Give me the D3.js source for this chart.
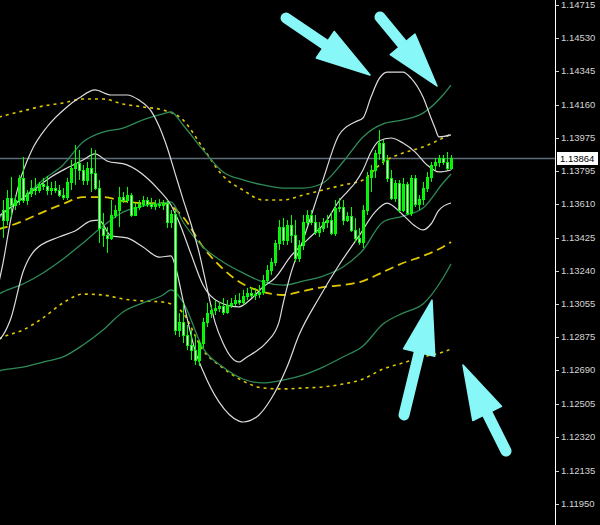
<!DOCTYPE html>
<html><head><meta charset="utf-8">
<script src="https://cdn.jsdelivr.net/npm/d3@7"></script>
<style>html,body{margin:0;padding:0;background:#000;overflow:hidden}</style>
</head><body><svg id="c" width="600" height="525"></svg>
<script>
// ---------- DATA ----------
const opens=[1.13577,1.13522,1.13644,1.13605,1.13633,1.13755,1.13633,1.13672,1.13699,1.13688,1.13722,1.13710,1.13688,1.13699,1.13688,1.13660,1.13649,1.13733,1.13810,1.13838,1.13799,1.13744,1.13810,1.13782,1.13699,1.13478,1.13439,1.13423,1.13550,1.13577,1.13649,1.13633,1.13660,1.13550,1.13594,1.13611,1.13633,1.13611,1.13600,1.13611,1.13605,1.13616,1.13511,1.13555,1.12913,1.12957,1.12885,1.12830,1.12802,1.12747,1.12841,1.12957,1.13007,1.13024,1.13035,1.13046,1.13013,1.13052,1.13063,1.13079,1.13068,1.13101,1.13118,1.13107,1.13112,1.13124,1.13190,1.13245,1.13290,1.13395,1.13483,1.13411,1.13494,1.13439,1.13312,1.13384,1.13511,1.13550,1.13511,1.13456,1.13478,1.13511,1.13522,1.13450,1.13588,1.13594,1.13522,1.13544,1.13467,1.13423,1.13400,1.13577,1.13760,1.13799,1.13893,1.13948,1.13854,1.13755,1.13644,1.13727,1.13577,1.13722,1.13561,1.13755,1.13611,1.13638,1.13699,1.13760,1.13827,1.13843,1.13865,1.13843,1.13810];
const highs=[1.13633,1.13688,1.13760,1.13660,1.13771,1.13871,1.13688,1.13744,1.13755,1.13733,1.13755,1.13766,1.13733,1.13738,1.13716,1.13699,1.13755,1.13854,1.13937,1.13910,1.13827,1.13843,1.13921,1.13910,1.13744,1.13561,1.13483,1.13633,1.13605,1.13705,1.13677,1.13705,1.13672,1.13616,1.13633,1.13655,1.13649,1.13644,1.13633,1.13638,1.13633,1.13633,1.13577,1.13577,1.13007,1.13063,1.12941,1.12913,1.12885,1.12858,1.12980,1.13063,1.13052,1.13079,1.13068,1.13090,1.13079,1.13090,1.13107,1.13118,1.13135,1.13146,1.13151,1.13146,1.13162,1.13218,1.13273,1.13312,1.13411,1.13522,1.13533,1.13522,1.13550,1.13522,1.13411,1.13550,1.13577,1.13577,1.13550,1.13511,1.13533,1.13550,1.13566,1.13633,1.13644,1.13633,1.13566,1.13594,1.13533,1.13478,1.13605,1.13788,1.13827,1.13910,1.14020,1.13965,1.13882,1.13799,1.13744,1.13744,1.13755,1.13733,1.13771,1.13771,1.13660,1.13733,1.13788,1.13843,1.13865,1.13882,1.13882,1.13899,1.13882];
const lows=[1.13423,1.13494,1.13539,1.13577,1.13605,1.13616,1.13605,1.13649,1.13660,1.13672,1.13688,1.13660,1.13660,1.13672,1.13649,1.13633,1.13633,1.13688,1.13716,1.13744,1.13716,1.13716,1.13677,1.13688,1.13395,1.13373,1.13340,1.13411,1.13533,1.13483,1.13616,1.13616,1.13539,1.13544,1.13577,1.13594,1.13594,1.13583,1.13577,1.13588,1.13577,1.13478,1.13478,1.12885,1.12874,1.12841,1.12802,1.12747,1.12719,1.12714,1.12813,1.12930,1.12980,1.12996,1.13013,1.12996,1.13002,1.13035,1.13046,1.13052,1.13052,1.13079,1.13090,1.13079,1.13090,1.13107,1.13173,1.13218,1.13268,1.13356,1.13384,1.13384,1.13395,1.13290,1.13290,1.13356,1.13489,1.13494,1.13439,1.13428,1.13456,1.13478,1.13439,1.13434,1.13566,1.13494,1.13511,1.13456,1.13400,1.13384,1.13367,1.13550,1.13677,1.13755,1.13854,1.13827,1.13733,1.13633,1.13622,1.13561,1.13566,1.13550,1.13544,1.13594,1.13577,1.13605,1.13677,1.13733,1.13799,1.13815,1.13827,1.13799,1.13799];
const closes=[1.13522,1.13644,1.13605,1.13633,1.13755,1.13633,1.13672,1.13699,1.13688,1.13722,1.13710,1.13688,1.13699,1.13688,1.13660,1.13649,1.13733,1.13810,1.13838,1.13799,1.13744,1.13810,1.13782,1.13699,1.13478,1.13439,1.13423,1.13550,1.13577,1.13649,1.13633,1.13660,1.13550,1.13594,1.13611,1.13633,1.13611,1.13600,1.13611,1.13605,1.13616,1.13511,1.13555,1.12913,1.12957,1.12885,1.12830,1.12802,1.12747,1.12841,1.12957,1.13007,1.13024,1.13035,1.13046,1.13013,1.13052,1.13063,1.13079,1.13068,1.13101,1.13118,1.13107,1.13112,1.13124,1.13190,1.13245,1.13290,1.13395,1.13483,1.13411,1.13494,1.13439,1.13312,1.13384,1.13511,1.13550,1.13511,1.13456,1.13478,1.13511,1.13522,1.13450,1.13588,1.13594,1.13522,1.13544,1.13467,1.13423,1.13400,1.13577,1.13760,1.13799,1.13893,1.13948,1.13854,1.13755,1.13644,1.13727,1.13577,1.13722,1.13561,1.13755,1.13611,1.13638,1.13699,1.13760,1.13827,1.13843,1.13865,1.13843,1.13810,1.13864];

const tickLabels=["1.14715","1.14530","1.14345","1.14160","1.13975","1.13795","1.13610","1.13425","1.13240","1.13055","1.12875","1.12690","1.12505","1.12320","1.12135","1.11950"];
const lastPrice=1.13864;

// band lines: [bar index, price]
const whiteUpper=[[-1,1.13179],[0,1.13284],[2,1.13533],[4,1.13722],[7,1.13899],[11,1.14037],[16,1.14148],[19,1.14197],[23,1.14242],[27,1.14214],[31,1.14214],[34,1.14186],[37,1.14126],[39,1.14042],[41,1.13926],[43,1.13782],[45,1.13638],[47,1.13500],[49,1.13345],[51,1.13146],[53,1.12957],[55,1.12841],[57,1.12764],[59,1.12736],[61,1.12764],[63,1.12791],[66,1.12847],[69,1.12957],[70,1.13057],[72,1.13229],[75,1.13411],[80,1.13744],[84,1.13993],[88,1.14065],[90,1.14087],[92,1.14203],[94,1.14303],[96,1.14341],[100,1.14341],[102,1.14308],[105,1.14203],[107,1.14087],[108,1.14031],[109,1.13982],[112,1.13993]];
const whiteMiddle=[[-1,1.13544],[0,1.13561],[4,1.13627],[8,1.13694],[12,1.13760],[16,1.13810],[20,1.13854],[23,1.13888],[26,1.13849],[31,1.13827],[36,1.13755],[39,1.13688],[42,1.13605],[44,1.13511],[47,1.13334],[50,1.13162],[54,1.13068],[59,1.13041],[62,1.13085],[65,1.13151],[68,1.13201],[72,1.13323],[76,1.13411],[81,1.13522],[84,1.13627],[86,1.13677],[88,1.13727],[90,1.13799],[92,1.13899],[94,1.13959],[97,1.13976],[100,1.13948],[103,1.13899],[106,1.13827],[109,1.13788],[112,1.13799]];
const whiteLower=[[-1,1.12858],[0,1.12885],[2,1.12980],[5,1.13234],[8,1.13356],[14,1.13428],[18,1.13461],[22,1.13517],[24,1.13522],[27,1.13434],[31,1.13423],[35,1.13373],[39,1.13317],[42,1.13323],[43,1.13273],[45,1.13079],[48,1.12802],[50,1.12686],[54,1.12515],[59,1.12409],[60,1.12404],[64,1.12443],[67,1.12531],[71,1.12708],[74,1.12885],[79,1.13090],[84,1.13273],[89,1.13434],[93,1.13566],[96,1.13616],[100,1.13550],[103,1.13489],[105,1.13467],[107,1.13500],[109,1.13577],[112,1.13616]];
const greenUpper=[[-1,1.13533],[0,1.13555],[5,1.13644],[10,1.13744],[15,1.13827],[20,1.13954],[25,1.14009],[30,1.14031],[35,1.14076],[40,1.14109],[42,1.14120],[45,1.14048],[50,1.13910],[55,1.13788],[60,1.13744],[65,1.13716],[70,1.13699],[75,1.13699],[80,1.13727],[85,1.13843],[90,1.13982],[95,1.14054],[100,1.14076],[105,1.14114],[110,1.14214],[112,1.14269]];
const greenMiddle=[[-1,1.13112],[0,1.13124],[5,1.13168],[10,1.13229],[15,1.13306],[20,1.13395],[25,1.13489],[30,1.13566],[35,1.13600],[40,1.13616],[42,1.13622],[45,1.13511],[50,1.13373],[55,1.13290],[60,1.13229],[65,1.13179],[70,1.13162],[75,1.13184],[80,1.13212],[85,1.13262],[90,1.13356],[95,1.13511],[100,1.13544],[105,1.13588],[110,1.13727],[112,1.13777]];
const greenLower=[[-1,1.12686],[0,1.12692],[5,1.12708],[10,1.12736],[15,1.12764],[20,1.12830],[25,1.12913],[30,1.13013],[35,1.13063],[40,1.13107],[42,1.13135],[45,1.13068],[50,1.12813],[55,1.12708],[60,1.12642],[65,1.12620],[70,1.12636],[75,1.12664],[80,1.12708],[85,1.12764],[90,1.12825],[95,1.12946],[100,1.13007],[105,1.13057],[110,1.13201],[112,1.13279]];
const yellowUpper=[[-1,1.14092],[0,1.14098],[5,1.14126],[10,1.14153],[15,1.14170],[20,1.14192],[25,1.14192],[30,1.14164],[35,1.14148],[40,1.14131],[45,1.14076],[50,1.13921],[55,1.13766],[60,1.13688],[65,1.13633],[70,1.13633],[75,1.13660],[80,1.13688],[85,1.13716],[90,1.13744],[95,1.13843],[100,1.13893],[105,1.13926],[110,1.13976],[112,1.13998]];
const yellowMiddle=[[-1,1.13472],[0,1.13478],[5,1.13517],[10,1.13566],[15,1.13611],[20,1.13649],[25,1.13649],[30,1.13627],[35,1.13616],[40,1.13616],[45,1.13539],[50,1.13373],[55,1.13251],[60,1.13168],[65,1.13124],[70,1.13107],[75,1.13129],[80,1.13151],[85,1.13162],[90,1.13184],[95,1.13234],[100,1.13284],[105,1.13323],[110,1.13373],[112,1.13400]];
const yellowLower=[[-1,1.12863],[0,1.12874],[5,1.12913],[10,1.12980],[15,1.13063],[20,1.13112],[25,1.13107],[30,1.13085],[35,1.13074],[40,1.13068],[42,1.13057],[45,1.13007],[50,1.12802],[55,1.12703],[60,1.12631],[65,1.12592],[70,1.12587],[75,1.12592],[80,1.12598],[85,1.12614],[90,1.12642],[95,1.12697],[100,1.12731],[105,1.12764],[110,1.12791],[112,1.12808]];

// annotation arrows: tail -> tip in [bar index, price]
const arrowTails=[[70.75,1.14640],[94.25,1.14646],[100.25,1.12443],[125.75,1.12243]];
const arrowTips=[[91.75,1.14325],[108.5,1.14264],[107.25,1.13079],[115,1.12719]];

// ---------- DRAW ----------
const W=600,H=525,axisX=555;
const svg=d3.select("#c");
svg.append("rect").attr("width",W).attr("height",H).attr("fill","#000");
const x=d3.scaleLinear().domain([0,112]).range([3,451]);
const y=d3.scaleLinear().domain([1.14740,1.11950]).range([0,504]);

svg.append("defs").append("clipPath").attr("id","plot").append("rect").attr("x",0).attr("y",0).attr("width",axisX).attr("height",H);
const plot=svg.append("g").attr("clip-path","url(#plot)");

// price line
plot.append("line").attr("x1",0).attr("x2",axisX).attr("y1",Math.round(y(lastPrice))+0.5).attr("y2",Math.round(y(lastPrice))+0.5)
  .attr("stroke","#5d6b79").attr("stroke-width",1.6);

const lineGen=d3.line().x(d=>x(d[0])).y(d=>y(d[1])).curve(d3.curveMonotoneX);
const bands=[
  {d:yellowUpper,c:"#e0c800",w:1.6,dash:"3,4"},
  {d:yellowLower,c:"#e0c800",w:1.6,dash:"3,4"},
  {d:yellowMiddle,c:"#e0c800",w:1.8,dash:"9,5"},
  {d:greenUpper,c:"#2e8b57",w:1.3,dash:null},
  {d:greenMiddle,c:"#2e8b57",w:1.3,dash:null},
  {d:greenLower,c:"#2e8b57",w:1.3,dash:null},
  {d:whiteUpper,c:"#dcdcdc",w:1.2,dash:null},
  {d:whiteMiddle,c:"#dcdcdc",w:1.2,dash:null},
  {d:whiteLower,c:"#dcdcdc",w:1.2,dash:null}
];
bands.forEach(b=>{
  plot.append("path").attr("d",lineGen(b.d)).attr("fill","none").attr("stroke",b.c)
    .attr("stroke-width",b.w).attr("stroke-dasharray",b.dash);
});

// candles
const bars=d3.range(closes.length).map(i=>({i,o:opens[i],h:highs[i],l:lows[i],c:closes[i]}));
const cg=plot.append("g");
bars.forEach(b=>{
  const xc=Math.round(x(b.i));
  cg.append("line").attr("x1",xc+0.5).attr("x2",xc+0.5).attr("y1",y(b.h)).attr("y2",y(b.l))
    .attr("stroke","#00ff00").attr("stroke-width",1);
  const top=Math.round(y(Math.max(b.o,b.c))), bot=Math.round(y(Math.min(b.o,b.c)));
  cg.append("rect").attr("x",xc-0.5).attr("width",2).attr("y",top+0.5).attr("height",Math.max(bot-top,1))
    .attr("fill",b.c>=b.o?"#14e614":"#e8ffe8").attr("stroke","#00ff00").attr("stroke-width",1);
});

// arrows
const headLen=54, headHalf=16, shaftW=11, arrowColor="#88f7f7";
arrowTails.forEach((t,k)=>{
  const tx=x(t[0]),ty=y(t[1]),px=x(arrowTips[k][0]),py=y(arrowTips[k][1]);
  const dx=px-tx,dy=py-ty,len=Math.hypot(dx,dy),ux=dx/len,uy=dy/len,nx=-uy,ny=ux;
  const bx=px-ux*headLen,by=py-uy*headLen;
  svg.append("line").attr("x1",tx).attr("y1",ty).attr("x2",bx+ux*4).attr("y2",by+uy*4)
    .attr("stroke",arrowColor).attr("stroke-width",shaftW).attr("stroke-linecap","round");
  svg.append("path").attr("d",`M${px},${py}L${bx+nx*headHalf},${by+ny*headHalf}L${bx-nx*headHalf},${by-ny*headHalf}Z`)
    .attr("fill",arrowColor).attr("stroke",arrowColor).attr("stroke-width",1.5).attr("stroke-linejoin","round");
});

// axis
svg.append("line").attr("x1",axisX+0.5).attr("x2",axisX+0.5).attr("y1",0).attr("y2",H).attr("stroke","#fff").attr("stroke-width",1);
const ax=svg.append("g");
tickLabels.forEach(t=>{
  const yy=Math.round(y(+t))+0.5;
  ax.append("line").attr("x1",axisX+1).attr("x2",axisX+4).attr("y1",yy).attr("y2",yy).attr("stroke","#d0d0d0");
  ax.append("text").attr("x",axisX+6).attr("y",yy-1).attr("dy","0.35em").text(t)
    .attr("fill","#d4d4d4").attr("font-family","Liberation Sans, Arial, sans-serif").attr("font-size","9.5px");
});
// last price box
const ly=y(lastPrice);
svg.append("rect").attr("x",axisX+2).attr("y",Math.round(ly)-6).attr("width",41).attr("height",13).attr("fill","#fff");
svg.append("text").attr("x",axisX+5).attr("y",Math.round(ly)+0.5).attr("dy","0.35em").text(lastPrice.toFixed(5))
  .attr("fill","#000").attr("font-family","Liberation Sans, Arial, sans-serif").attr("font-size","9.5px");
</script></body></html>
